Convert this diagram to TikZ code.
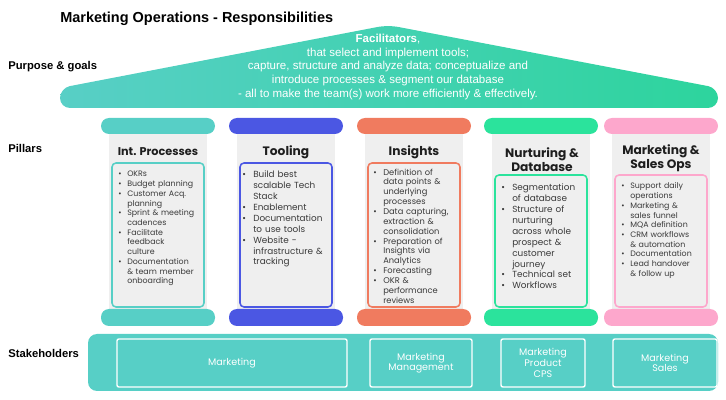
\documentclass[tikz,border=0pt]{standalone}
\usepackage{fontspec}
\setmainfont{Liberation Sans}
\newfontfamily\popFont{Poppins}
\usepackage{enumitem}
\usetikzlibrary{positioning}
\setlist[itemize]{nosep, label=\textbullet, align=left, labelsep=0pt}
\definecolor{tealColor}{HTML}{57CFC6}
\definecolor{blueColor}{HTML}{4B57E3}
\definecolor{coralColor}{HTML}{F07B5F}
\definecolor{greenColor}{HTML}{2BE39C}
\definecolor{pinkColor}{HTML}{FDA7CC}
\definecolor{bodyColor}{HTML}{EFEFEF}
\definecolor{roofLeft}{HTML}{58CFC6}
\definecolor{roofRight}{HTML}{2DD49D}
\definecolor{titleColor}{HTML}{1E1E1E}
\definecolor{listColor}{HTML}{3A3A3A}
\newcommand{\px}{0.025cm}
\tikzstyle{plan} = [x = \px, y = -\px]
\tikzstyle{capStyle} = [rounded corners = 8*\px]
\tikzstyle{bodyStyle} = [fill=bodyColor]
\tikzstyle{innerBoxStyle} = [line width = 1.1pt, rounded corners = 4*\px]
\tikzstyle{sideLabel} = [anchor=west, inner sep=0, font=\bfseries\fontsize{8}{9}\selectfont]
\tikzstyle{pillarTitle} = [inner sep=0, align=center, text=titleColor, font=\popFont\bfseries\fontsize{8.7}{10}\selectfont]
\tikzstyle{pillarList} = [anchor=north west, inner sep=0, text width=2.2cm, align=left, text=listColor]
\tikzstyle{stakeBox} = [draw=white, line width=1pt, rounded corners=2*\px, inner sep=0, minimum height=1.2cm, align=center, text=white, font=\popFont\fontsize{6.8}{7.6}\selectfont]
\newcommand{\pillar}[2]{
  \fill [bodyStyle] (#1 + 8, 126) rectangle (#1 + 106, 318);
  \fill [capStyle, fill=#2] (#1, 118) rectangle + (114, 16);
  \fill [capStyle, fill=#2] (#1, 309) rectangle + (114, 17);
}
\newcommand{\innerBox}[3]{\draw [innerBoxStyle, draw=#2] (#1 + 11, #3) rectangle (#1 + 103, 307);}

\begin{document}
\begin{tikzpicture}[plan]
  \useasboundingbox (0,0) rectangle (726,400);
  \node [anchor=west, inner sep=0, font=\bfseries\fontsize{10.3}{12}\selectfont] (mainTitle) at (60,19) {Marketing Operations - Responsibilities};
  % roof
  \shade [left color=roofLeft, right color=roofRight, rounded corners=10*\px] (60,108) -- (60,88) -- (388,25) -- (718,88) -- (718,108) -- cycle;
  \node [align=center, inner sep=0, text=white, font=\fontsize{8.2}{9.7}\selectfont] (roofText) at (388,67)
    {\textbf{Facilitators},\\ that select and implement tools;\\ capture, structure and analyze data; conceptualize and\\ introduce processes \& segment our database\\ - all to make the team(s) work more efficiently \& effectively.};
  \node [sideLabel] (purposeLabel) at (8,67) {Purpose \& goals};
  \node [sideLabel] (pillarsLabel) at (8,148) {Pillars};
  \node [sideLabel] (stakeLabel) at (8,353) {Stakeholders};
  % pillars
  \foreach \xPos/\colorName/\boxTop in {101/tealColor/163, 229/blueColor/163, 357/coralColor/163, 484/greenColor/175, 604/pinkColor/175} {
    \pillar{\xPos}{\colorName}
    \innerBox{\xPos}{\colorName}{\boxTop}
  }
  \node [pillarTitle, font=\popFont\bfseries\fontsize{8}{10}\selectfont] (intTitle) at (158,152) {Int. Processes};
  \node [pillarTitle] (toolTitle) at (286,152) {Tooling};
  \node [pillarTitle] (insightTitle) at (414,152) {Insights};
  \node [pillarTitle] (nurtureTitle) at (542,160) {Nurturing \&\\ Database};
  \node [pillarTitle] (salesOpsTitle) at (661,158.5) {Marketing \&\\ Sales Ops};
  \node [pillarList, font=\popFont\fontsize{5.6}{6.9}\selectfont] (intList) at (118,167) {
    \begin{itemize}[leftmargin=6.4pt, labelwidth=6.4pt]
      \item OKRs
      \item Budget planning
      \item Customer Acq.\newline planning
      \item Sprint \& meeting\newline cadences
      \item Facilitate\newline feedback\newline culture
      \item Documentation\newline \& team member\newline onboarding
    \end{itemize}};
  \node [pillarList, font=\popFont\fontsize{6.3}{7.8}\selectfont] (toolList) at (242,166) {
    \begin{itemize}[leftmargin=7.8pt, labelwidth=7.8pt]
      \item Build best\newline scalable Tech\newline Stack
      \item Enablement
      \item Documentation\newline to use tools
      \item Website -\newline infrastructure \&\newline tracking
    \end{itemize}};
  \node [pillarList, font=\popFont\fontsize{5.9}{7}\selectfont] (insightList) at (373,165) {
    \begin{itemize}[leftmargin=7.1pt, labelwidth=7.1pt]
      \item Definition of\newline data points \&\newline underlying\newline processes
      \item Data capturing,\newline extraction \&\newline consolidation
      \item Preparation of\newline Insights via\newline Analytics
      \item Forecasting
      \item OKR \&\newline performance\newline reviews
    \end{itemize}};
  \node [pillarList, font=\popFont\fontsize{6.3}{7.8}\selectfont] (nurtureList) at (501,179) {
    \begin{itemize}[leftmargin=7.8pt, labelwidth=7.8pt]
      \item Segmentation\newline of database
      \item Structure of\newline nurturing\newline across whole\newline prospect \&\newline customer\newline journey
      \item Technical set
      \item Workflows
    \end{itemize}};
  \node [pillarList, font=\popFont\fontsize{5.6}{6.9}\selectfont] (salesOpsList) at (621,179) {
    \begin{itemize}[leftmargin=6.4pt, labelwidth=6.4pt]
      \item Support daily\newline operations
      \item Marketing \&\newline sales funnel
      \item MQA definition
      \item CRM workflows\newline \& automation
      \item Documentation
      \item Lead handover\newline \& follow up
    \end{itemize}};
  % stakeholders
  \fill [tealColor, rounded corners=9*\px] (88,334) rectangle (718,391);
  \node [stakeBox, minimum width=5.75cm] (marketingBox) at (232,363) {Marketing};
  \node [stakeBox, minimum width=2.55cm] (managementBox) at (421,363) {Marketing\\ Management};
  \node [stakeBox, minimum width=2.1cm] (productBox) at (543,363) {Marketing\\ Product\\ CPS};
  \node [stakeBox, minimum width=2.6cm] (salesBox) at (665,363) {Marketing\\ Sales};
\end{tikzpicture}
\end{document}
